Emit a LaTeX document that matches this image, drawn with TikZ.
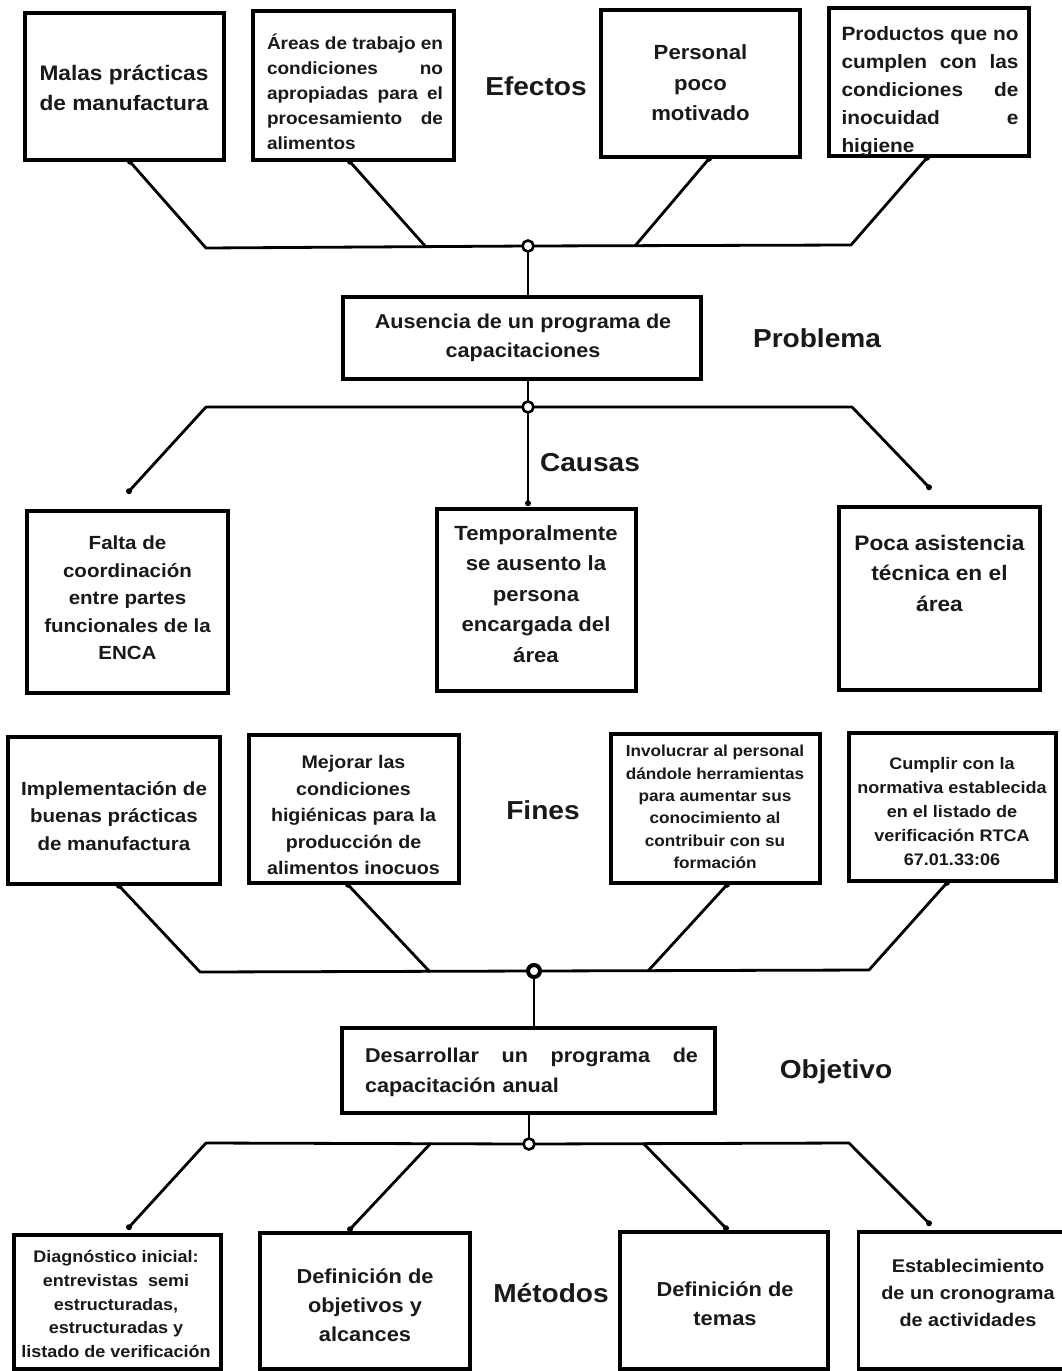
\documentclass[tikz,border=0pt]{standalone}
\usepackage{fontspec}
\setmainfont{Liberation Sans}[FakeStretch=1.08]
\usetikzlibrary{calc}
\newcommand\fs[2]{\fontsize{#1}{#2}\selectfont\bfseries}
\newcommand\bx[5]{\node[box, minimum width=#4pt, minimum height=#5pt] (#1) at (#2,#3) {};}
\begin{document}
\begin{tikzpicture}[x=1pt,y=-1pt,
  box/.style={draw, line width=3.5pt, inner sep=0pt, fill=white},
  txt/.style={inner sep=0pt, align=center, text=black!90},
  ltxt/.style={inner sep=0pt, align=left, text=black!90},
  lbl/.style={inner sep=0pt, font=\fs{26}{30}, text=black!90},
  conn/.style={line width=2.8pt, line join=round},
  dotn/.style={circle, fill, inner sep=0pt, minimum size=6pt},
  junc/.style={circle, draw, line width=2.6pt, fill=white, inner sep=0pt, minimum size=11pt}]
\useasboundingbox[fill=white] (0,0) rectangle (1061,1371);

% ---------------- Efectos ----------------
\bx{A}{124.5}{86.5}{199}{147}
\node[txt, font=\fs{21}{30}] (At) at (124,88) {Malas prácticas\\de manufactura};
\bx{B}{353.5}{85.5}{201}{149}
\node[ltxt, text width=176pt, font=\fs{17.6}{25}] (Bt) at (355,92)
  {Áreas\hfill de\hfill trabajo\hfill en\\condiciones\hfill no\\apropiadas\hfill para\hfill el\\procesamiento\hfill de\\alimentos};
\node[lbl] (Lef) at (536,86) {Efectos};
\bx{C}{700.5}{83.5}{199}{147}
\node[txt, font=\fs{20.5}{30.5}] (Ct) at (700.5,83) {Personal\\poco\\motivado};
\bx{D}{929}{82}{200}{148}
\node[ltxt, text width=177pt, font=\fs{19.3}{28}] (Dt) at (930,92)
  {Productos\hfill que\hfill no\\cumplen\hfill con\hfill las\\condiciones\hfill de\\inocuidad\hfill e\\higiene};

% ---------------- Problema ----------------
\bx{P}{522}{338}{358}{82}
\node[txt, font=\fs{20}{29}] (Pt) at (523,338) {Ausencia de un programa de\\capacitaciones};
\node[lbl] (Lpr) at (817,338) {Problema};

% ---------------- Causas ----------------
\bx{L}{127.5}{602}{201}{182}
\node[txt, font=\fs{19}{27.5}] (Lt) at (127.5,598) {Falta de\\coordinación\\entre partes\\funcionales de la\\ENCA};
\bx{M}{536.5}{600}{199}{182}
\node[txt, font=\fs{20.5}{30.5}] (Mt) at (536,594) {Temporalmente\\se ausento la\\persona\\encargada del\\área};
\bx{R}{939.5}{598.5}{201}{183}
\node[txt, font=\fs{21}{30.5}] (Rt) at (939.5,573) {Poca asistencia\\técnica en el\\área};
\node[lbl] (Lca) at (590,463) {Causas};

% ---------------- Fines ----------------
\bx{F1}{114}{810.5}{212}{147}
\node[txt, font=\fs{19}{27.5}] (F1t) at (114,816) {Implementación de\\buenas prácticas\\de manufactura};
\bx{F2}{354}{809}{210}{148}
\node[txt, font=\fs{18.2}{26.5}] (F2t) at (353.5,815) {Mejorar las\\condiciones\\higiénicas para la\\producción de\\alimentos inocuos};
\node[lbl] (Lfi) at (543,810) {Fines};
\bx{F3}{715.5}{808.5}{209}{149}
\node[txt, font=\fs{15.9}{22.4}] (F3t) at (715,807) {Involucrar al personal\\dándole herramientas\\para aumentar sus\\conocimiento al\\contribuir con su\\formación};
\bx{F4}{952.5}{807}{207}{148}
\node[txt, font=\fs{16.7}{24}] (F4t) at (952,811.5) {Cumplir con la\\normativa establecida\\en el listado de\\verificación RTCA\\67.01.33:06};

% ---------------- Objetivo ----------------
\bx{O}{528.5}{1070.5}{373}{85}
\node[ltxt, text width=333pt, font=\fs{20}{30}] (Ot) at (531.5,1072)
  {Desarrollar\hfill un\hfill programa\hfill de\\capacitación anual};
\node[lbl] (Lob) at (836,1072) {Objetivo};

% ---------------- Métodos ----------------
\bx{M1}{117.5}{1302}{207}{134}
\node[txt, font=\fs{16.7}{23.7}] (M1t) at (116,1304) {Diagnóstico inicial:\\entrevistas\ \ semi\\estructuradas,\\estructuradas y\\listado de verificación};
\bx{M2}{365}{1301}{210}{136}
\node[txt, font=\fs{20.2}{29}] (M2t) at (365,1305) {Definición de\\objetivos y\\alcances};
\node[lbl] (Lme) at (551,1293) {Métodos};
\bx{M3}{724}{1300.5}{208}{137}
\node[txt, font=\fs{20.2}{29}] (M3t) at (725,1303.5) {Definición de\\temas};
\bx{M4}{962.5}{1300.5}{208}{137}
\node[txt, font=\fs{18.4}{27}] (M4t) at (968,1293) {Establecimiento\\de un cronograma\\de actividades};

% ---------------- connector points ----------------
\coordinate (jE) at (528,246);
\coordinate (jC) at (528,407);
\coordinate (jF) at (534,971);
\coordinate (jM) at (529,1144);

\coordinate (a0) at ($(A.south)+(5.5,0)$);
\coordinate (b0) at ($(B.south)+(-3.5,0)$);
\coordinate (c0) at ($(C.south)+(8.5,0)$);
\coordinate (d0) at ($(D.south)+(-2,0)$);
\coordinate (e1) at (206,248);
\coordinate (e2) at (426,247);
\coordinate (e3) at (635,246);
\coordinate (e4) at (851,245);

\coordinate (cL) at ($(L.north)+(1.5,-18)$);
\coordinate (cM) at ($(jC |- M.north)+(0,-4)$);
\coordinate (cR) at ($(R.north)+(-10.5,-18)$);
\coordinate (c1) at (206,407);
\coordinate (c3) at (852,407);

\coordinate (g1) at ($(F1.south)+(5,0)$);
\coordinate (g2) at ($(F2.south)+(-6,0)$);
\coordinate (g3) at ($(F3.south)+(11.5,0)$);
\coordinate (g4) at ($(F4.south)+(-5.5,0)$);
\coordinate (f1) at (200,972);
\coordinate (f2) at (430,972);
\coordinate (f3) at (648,971);
\coordinate (f4) at (869,970);

\coordinate (k1) at ($(M1.north)+(11.5,-6)$);
\coordinate (k2) at ($(M2.north)+(-15,-2)$);
\coordinate (k3) at ($(M3.north)+(2,-2)$);
\coordinate (k4) at ($(M4.north)+(-33.5,-7)$);
\coordinate (m1) at (206,1143);
\coordinate (m2) at (431,1143);
\coordinate (m3) at (643,1143);
\coordinate (m4) at (849,1143);

% ---------------- connectors ----------------
\draw[conn] (a0) -- (e1) -- (jE) -- (e4) -- (d0);
\draw[conn] (b0) -- (e2);
\draw[conn] (c0) -- (e3);
\draw[conn] (jE) -- (jE |- P.north);

\draw[conn] (jC |- P.south) -- (jC);
\draw[conn] (cL) -- (c1) -- (jC) -- (c3) -- (cR);
\draw[conn] (jC) -- (cM);

\draw[conn] (g1) -- (f1) -- (jF) -- (f4) -- (g4);
\draw[conn] (g2) -- (f2);
\draw[conn] (g3) -- (f3);
\draw[conn] (jF) -- (jF |- O.north);

\draw[conn] (jM |- O.south) -- (jM);
\draw[conn] (k1) -- (m1) -- (jM) -- (m4) -- (k4);
\draw[conn] (k2) -- (m2);
\draw[conn] (k3) -- (m3);

% ---------------- dots and junctions ----------------
\foreach \p in {a0,b0,c0,d0,cL,cM,cR,g1,g2,g3,g4,k1,k2,k3,k4}
  \node[dotn] (dot\p) at (\p) {};
\node[junc] (JE) at (jE) {};
\node[junc] (JC) at (jC) {};
\node[junc, line width=4pt, minimum size=12pt] (JF) at (jF) {};
\node[junc] (JM) at (jM) {};
\end{tikzpicture}
\end{document}
